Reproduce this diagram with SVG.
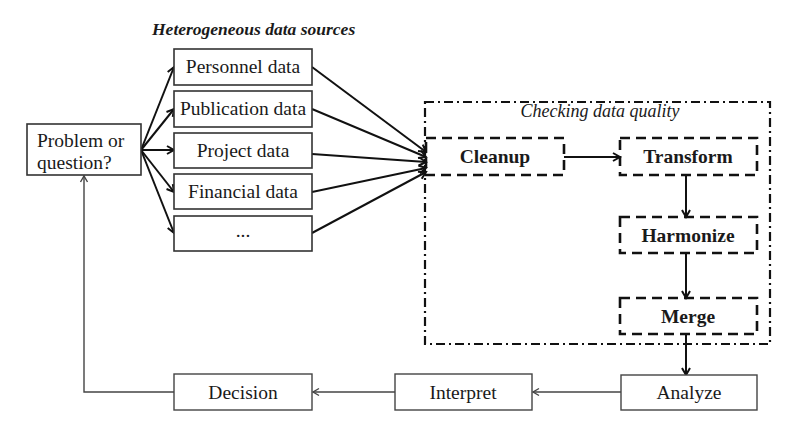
<svg xmlns="http://www.w3.org/2000/svg" width="800" height="434" viewBox="0 0 800 434">
<defs>
<style>
.src{fill:#fff;stroke:#333;stroke-width:1.6}
.bot{fill:#fff;stroke:#444;stroke-width:1.4}
.dsh{fill:none;stroke:#111;stroke-width:2.6;stroke-dasharray:10,6}
.grp{fill:none;stroke:#111;stroke-width:2.2;stroke-dasharray:9,4,2,4}
.t{font-family:"Liberation Serif",serif;font-size:19.5px;fill:#1a1a1a}
.c{text-anchor:middle}
.b{font-weight:bold}
.ar{fill:none;stroke:#111;stroke-width:2;marker-end:url(#ah)}
.thin{fill:none;stroke:#444;stroke-width:1.4;marker-end:url(#ahs)}
</style>
<marker id="ah" markerWidth="10" markerHeight="10" refX="8" refY="5" orient="auto" markerUnits="userSpaceOnUse">
<path d="M1,1 L8,5 L1,9" fill="none" stroke="#111" stroke-width="2"/>
</marker>
<marker id="ahs" markerWidth="10" markerHeight="10" refX="8" refY="5" orient="auto" markerUnits="userSpaceOnUse">
<path d="M2,1.5 L8,5 L2,8.5" fill="none" stroke="#444" stroke-width="1.4"/>
</marker>
</defs>
<rect width="800" height="434" fill="#fff"/>

<text x="152" y="35" class="t b" style="font-style:italic;font-size:17.5px">Heterogeneous data sources</text>

<g id="group-quality">
<rect x="425" y="102" width="345" height="242" class="grp"/>
<text x="600" y="117" class="t c" style="font-style:italic;font-size:18px">Checking data quality</text>
</g>

<g id="connectors">
<path class="ar" d="M141,150 L174,67"/>
<path class="ar" d="M141,150 L174,109"/>
<path class="ar" d="M141,150 L174,150"/>
<path class="ar" d="M141,150 L174,192"/>
<path class="ar" d="M141,150 L174,233"/>
<path class="ar" d="M312,67 L426,152"/>
<path class="ar" d="M312,109 L426,157"/>
<path class="ar" d="M312,154 L426,162"/>
<path class="ar" d="M312,192 L426,168"/>
<path class="ar" d="M312,233 L426,172"/>
<path class="ar" d="M564,157 L620,157"/>
<path class="ar" d="M686,175 L686,217"/>
<path class="ar" d="M686,253 L686,298"/>
<path class="ar" d="M686,334 L686,375"/>
<path class="thin" d="M621,392 L533,392"/>
<path class="thin" d="M395,392 L313,392"/>
<path class="thin" d="M174,392 L84,392 L84,176"/>
</g>

<g id="problem">
<rect x="27" y="124" width="114" height="51" class="src"/>
<text x="37" y="147" class="t">Problem or</text>
<text x="37" y="169" class="t">question?</text>
</g>

<g id="personnel">
<rect x="174" y="49" width="138" height="36" class="src"/>
<text x="243" y="73" class="t c">Personnel data</text>
</g>
<g id="publication">
<rect x="174" y="91" width="138" height="36" class="src"/>
<text x="243" y="115" class="t c">Publication data</text>
</g>
<g id="project">
<rect x="174" y="133" width="138" height="35" class="src"/>
<text x="243" y="157" class="t c">Project data</text>
</g>
<g id="financial">
<rect x="174" y="174" width="138" height="35" class="src"/>
<text x="243" y="198" class="t c">Financial data</text>
</g>
<g id="more">
<rect x="174" y="216" width="138" height="35" class="src"/>
<text x="243" y="237" class="t c">...</text>
</g>

<g id="cleanup">
<rect x="426" y="138" width="138" height="37" class="dsh"/>
<text x="495" y="163" class="t c b">Cleanup</text>
</g>
<g id="transform">
<rect x="620" y="138" width="137" height="37" class="dsh"/>
<text x="688" y="163" class="t c b">Transform</text>
</g>
<g id="harmonize">
<rect x="620" y="217" width="137" height="36" class="dsh"/>
<text x="688" y="242" class="t c b">Harmonize</text>
</g>
<g id="merge">
<rect x="620" y="298" width="137" height="36" class="dsh"/>
<text x="688" y="323" class="t c b">Merge</text>
</g>

<g id="analyze">
<rect x="621" y="375" width="136" height="35" class="bot"/>
<text x="689" y="399" class="t c">Analyze</text>
</g>
<g id="interpret">
<rect x="395" y="374" width="137" height="36" class="bot"/>
<text x="463" y="399" class="t c">Interpret</text>
</g>
<g id="decision">
<rect x="174" y="374" width="138" height="36" class="bot"/>
<text x="243" y="399" class="t c">Decision</text>
</g>
</svg>
